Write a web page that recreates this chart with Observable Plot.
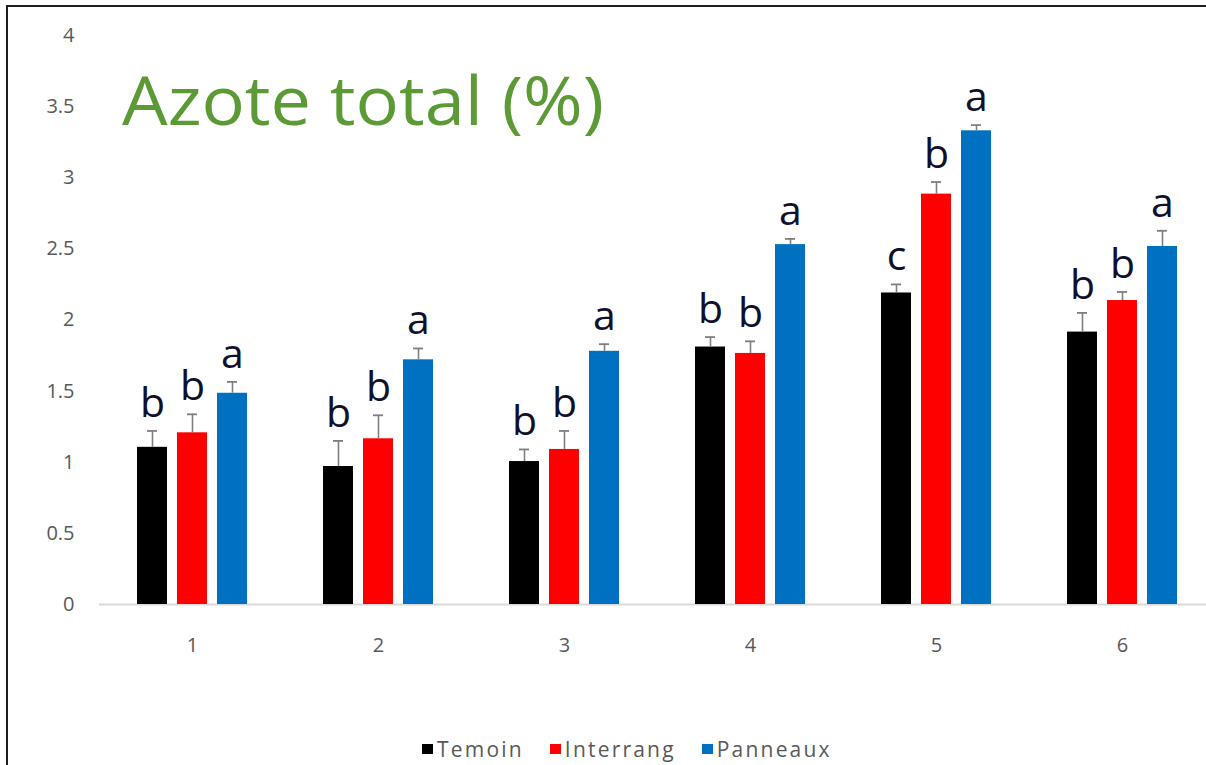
<!DOCTYPE html>
<html>
<head>
<meta charset="utf-8">
<script src="https://cdn.jsdelivr.net/npm/d3@7"></script>
<script src="https://cdn.jsdelivr.net/npm/@observablehq/plot@0.6"></script>
<style>
  html, body { margin: 0; padding: 0; background: #fff; overflow: hidden; width: 1206px; height: 765px; }
  #frame { position: absolute; left: 6px; top: 5px; width: 1198px; height: 758px;
           border-left: 2px solid #1e1e1e; border-top: 2px solid #1e1e1e; }
  #chart { position: absolute; left: 0; top: 0; width: 1206px; height: 700px; overflow: hidden; }
  #legend { position: absolute; top: 735px; left: 422px; display: flex; align-items: center;
            font-family: "Open Sans", sans-serif; font-size: 21px; color: #595959; letter-spacing: 2.2px; }
  #legend .item { display: flex; align-items: center; margin-right: 26px; }
  #legend .sw { width: 11px; height: 10px; margin-right: 4px; }
</style>
</head>
<body>
<div id="frame"></div>
<div id="chart"></div>
<div id="legend"></div>
<script>
// Sampling dates (categories) and treatments
const groups = ["1", "2", "3", "4", "5", "6"];
const series = ["Temoin", "Interrang", "Panneaux"];
const colors = ["#000000", "#ff0000", "#0070c0"];

// Mean total nitrogen (%) and standard error per treatment
const temoin = [1.105, 0.97, 1.005, 1.81, 2.19, 1.915];
const temoinErr = [0.115, 0.18, 0.085, 0.07, 0.06, 0.135];
const interrang = [1.207, 1.165, 1.09, 1.765, 2.885, 2.137];
const interrangErr = [0.13, 0.165, 0.13, 0.085, 0.085, 0.06];
const panneaux = [1.485, 1.72, 1.78, 2.53, 3.33, 2.517];
const panneauxErr = [0.08, 0.08, 0.05, 0.04, 0.04, 0.11];

// Significance letters
const temoinLetters = ["b", "b", "b", "b", "c", "b"];
const interrangLetters = ["b", "b", "b", "b", "b", "b"];
const panneauxLetters = ["a", "a", "a", "a", "a", "a"];

const yTicks = [0, 0.5, 1, 1.5, 2, 2.5, 3, 3.5, 4];

const values = [temoin, interrang, panneaux];
const errors = [temoinErr, interrangErr, panneauxErr];
const letters = [temoinLetters, interrangLetters, panneauxLetters];

const rows = [];
groups.forEach((g, i) => {
  series.forEach((s, j) => {
    rows.push({group: g, series: s, value: values[j][i], err: errors[j][i], letter: letters[j][i]});
  });
});
const errTop = d => d.value + d.err;

const font = "'Open Sans', sans-serif";

// The category axis runs a little past the right edge of the page
const chart = Plot.plot({
  width: 1216,
  height: 700,
  marginLeft: 97,
  marginRight: 0,
  marginTop: 35,
  marginBottom: 96,
  style: {fontFamily: font, background: "transparent", maxWidth: "none"},
  fx: {domain: groups, padding: 0, axis: null, label: null},
  x: {domain: series, axis: null, paddingInner: 10 / 41, paddingOuter: 0.895, align: 0.5},
  y: {domain: [0, 4], axis: null},
  color: {domain: series, range: colors},
  marks: [
    Plot.axisY({ticks: yTicks, tickSize: 0, tickPadding: 25, label: null, tickFormat: d => String(d),
                fontSize: 20, fill: "#595959"}),
    Plot.axisFx({anchor: "bottom", tickSize: 0, tickPadding: 33, label: null,
                 fontSize: 20, fill: "#595959"}),
    Plot.ruleY([0], {stroke: "#d9d9d9", strokeWidth: 2}),
    Plot.barY(rows, {fx: "group", x: "series", y: "value", fill: "series"}),
    Plot.ruleX(rows, {fx: "group", x: "series", y1: "value", y2: errTop, stroke: "#7f7f7f", strokeWidth: 1.6}),
    Plot.tickY(rows, {fx: "group", x: "series", y: errTop, stroke: "#7f7f7f", strokeWidth: 1.8,
                      insetLeft: 10, insetRight: 10}),
    Plot.text(rows, {fx: "group", x: "series", y: errTop, text: "letter", lineAnchor: "bottom", dy: -14,
                     fontSize: 41, fill: "#10102a"})
  ]
});
chart.style.maxWidth = "none";
chart.style.width = "1216px";
chart.style.height = "700px";

document.getElementById("chart").appendChild(chart);

// Chart title, drawn into the plot's SVG
d3.select(chart).append("text")
  .attr("x", 122)
  .attr("y", 125)
  .attr("text-anchor", "start")
  .attr("textLength", 482)
  .attr("lengthAdjust", "spacingAndGlyphs")
  .attr("fill", "#5b9a34")
  .style("font-family", font)
  .style("font-size", "68px")
  .text("Azote total (%)");

// Legend
const legend = d3.select("#legend");
series.forEach((s, j) => {
  const item = legend.append("div").attr("class", "item");
  item.append("div").attr("class", "sw").style("background", colors[j]);
  item.append("span").text(s);
});
</script>
</body>
</html>
